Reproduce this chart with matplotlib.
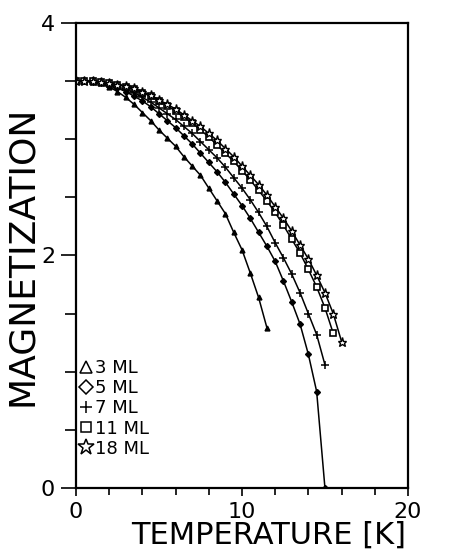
import matplotlib
matplotlib.use("Agg")
import matplotlib.pyplot as plt
from matplotlib.lines import Line2D
from matplotlib.ticker import MultipleLocator

# temperature grid of the simulated points (K)
temp_3ml = [0.0, 0.5, 1.0, 1.5, 2.0, 2.5, 3.0, 3.5, 4.0, 4.5, 5.0, 5.5,
            6.0, 6.5, 7.0, 7.5, 8.0, 8.5, 9.0, 9.5, 10.0, 10.5, 11.0, 11.5]
mag_3ml = [3.50, 3.50, 3.49, 3.48, 3.45, 3.41, 3.36, 3.30, 3.23, 3.16, 3.08, 3.01,
           2.94, 2.85, 2.77, 2.69, 2.58, 2.47, 2.36, 2.20, 2.05, 1.85, 1.64, 1.38]

temp_5ml = [0.0, 0.5, 1.0, 1.5, 2.0, 2.5, 3.0, 3.5, 4.0, 4.5, 5.0, 5.5, 6.0, 6.5, 7.0, 7.5,
            8.0, 8.5, 9.0, 9.5, 10.0, 10.5, 11.0, 11.5, 12.0, 12.5, 13.0, 13.5, 14.0, 14.5, 15.0]
mag_5ml = [3.50, 3.50, 3.49, 3.48, 3.46, 3.44, 3.41, 3.37, 3.33, 3.28, 3.22, 3.16, 3.10, 3.03, 2.96, 2.88,
           2.80, 2.72, 2.63, 2.53, 2.43, 2.32, 2.20, 2.08, 1.95, 1.78, 1.60, 1.41, 1.15, 0.83, 0.00]

temp_7ml = [0.0, 0.5, 1.0, 1.5, 2.0, 2.5, 3.0, 3.5, 4.0, 4.5, 5.0, 5.5, 6.0, 6.5, 7.0, 7.5,
            8.0, 8.5, 9.0, 9.5, 10.0, 10.5, 11.0, 11.5, 12.0, 12.5, 13.0, 13.5, 14.0, 14.5, 15.0]
mag_7ml = [3.50, 3.50, 3.50, 3.49, 3.47, 3.45, 3.43, 3.40, 3.36, 3.32, 3.27, 3.22, 3.17, 3.11, 3.05, 2.98,
           2.91, 2.84, 2.76, 2.67, 2.58, 2.48, 2.37, 2.25, 2.11, 1.98, 1.84, 1.68, 1.50, 1.32, 1.06]

temp_11ml = [0.0, 0.5, 1.0, 1.5, 2.0, 2.5, 3.0, 3.5, 4.0, 4.5, 5.0, 5.5, 6.0, 6.5, 7.0, 7.5,
             8.0, 8.5, 9.0, 9.5, 10.0, 10.5, 11.0, 11.5, 12.0, 12.5, 13.0, 13.5, 14.0, 14.5, 15.0, 15.5]
mag_11ml = [3.50, 3.50, 3.50, 3.49, 3.48, 3.47, 3.45, 3.43, 3.40, 3.37, 3.33, 3.29, 3.24, 3.19, 3.14, 3.08,
            3.02, 2.95, 2.88, 2.81, 2.73, 2.65, 2.56, 2.47, 2.37, 2.26, 2.14, 2.02, 1.88, 1.73, 1.55, 1.33]

temp_18ml = [0.0, 0.5, 1.0, 1.5, 2.0, 2.5, 3.0, 3.5, 4.0, 4.5, 5.0, 5.5, 6.0, 6.5, 7.0, 7.5, 8.0,
             8.5, 9.0, 9.5, 10.0, 10.5, 11.0, 11.5, 12.0, 12.5, 13.0, 13.5, 14.0, 14.5, 15.0, 15.5, 16.0]
mag_18ml = [3.50, 3.50, 3.50, 3.49, 3.48, 3.47, 3.46, 3.44, 3.41, 3.38, 3.34, 3.30, 3.26, 3.21, 3.16, 3.11, 3.05,
            2.99, 2.92, 2.85, 2.77, 2.69, 2.61, 2.52, 2.42, 2.32, 2.21, 2.09, 1.97, 1.83, 1.68, 1.50, 1.26]

labels = ["3 ML", "5 ML", "7 ML", "11 ML", "18 ML"]
markers = ["^", "D", "+", "s", "*"]


def main():
    plt.rcParams["font.family"] = ["DejaVu Sans"]

    fig = plt.figure(figsize=(4.51, 5.57), dpi=100)
    ax = fig.add_axes([0.1685, 0.1239, 0.736, 0.8348])

    series = [
        (temp_3ml, mag_3ml, dict(marker="^", ms=3.5, mfc="black")),
        (temp_5ml, mag_5ml, dict(marker="D", ms=3, mfc="black")),
        (temp_7ml, mag_7ml, dict(marker="+", ms=6, mew=1.1)),
        (temp_11ml, mag_11ml, dict(marker="s", ms=4, mfc="white", mew=1.2)),
        (temp_18ml, mag_18ml, dict(marker="*", ms=6.5, mfc="white", mew=1.0)),
    ]
    for temp, mag, style in series:
        ax.plot(temp, mag, color="black", lw=1.1, mec="black", **style)

    ax.set_xlim(0, 20)
    ax.set_ylim(0, 4)

    ax.xaxis.set_major_locator(MultipleLocator(10))
    ax.xaxis.set_minor_locator(MultipleLocator(2))
    ax.yaxis.set_major_locator(MultipleLocator(2))
    ax.yaxis.set_minor_locator(MultipleLocator(0.5))
    ax.tick_params(axis="both", which="both", direction="out", width=1.2,
                   labelsize=16, top=False, right=False)
    ax.tick_params(axis="x", which="major", length=6, pad=4)
    ax.tick_params(axis="x", which="minor", length=5)
    ax.tick_params(axis="y", which="major", length=11, pad=4)
    ax.tick_params(axis="y", which="minor", length=8)

    for spine in ax.spines.values():
        spine.set_linewidth(1.6)

    ax.set_xlabel("TEMPERATURE [K]", fontsize=22)
    ax.xaxis.set_label_coords(0.58, -0.07)
    ax.set_ylabel("MAGNETIZATION", fontsize=26)
    ax.yaxis.set_label_coords(-0.11, 0.5)

    handles = [
        Line2D([], [], ls="none", marker=m, color="black", mfc="white",
               mew=1.1, ms=(12 if m == "*" else 9 if m == "+" else 8 if m == "^" else 7))
        for m in markers
    ]
    ax.legend(handles, labels, loc="upper left", bbox_to_anchor=(0.0, 0.285),
              frameon=False, fontsize=13, handlelength=0.7, handletextpad=0.15,
              labelspacing=0.12, borderpad=0.2, borderaxespad=0.0)

    fig.savefig("out.png", dpi=100)


if __name__ == "__main__":
    main()
